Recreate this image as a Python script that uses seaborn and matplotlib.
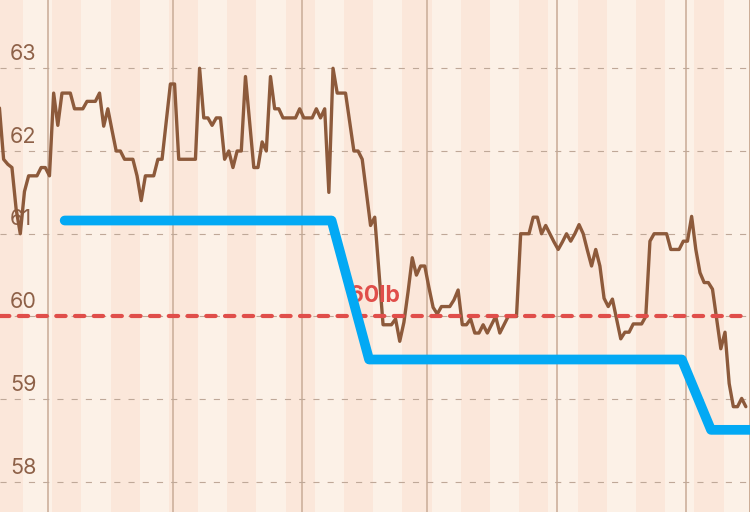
import pandas as pd
import seaborn as sns
import matplotlib.pyplot as plt

# daily weigh-ins, starting 20 Mar (morning)
start = "2023-03-20 08:30"
weights = [
    62.52, 61.9, 61.84, 61.8, 61.3, 61.0, 61.51, 61.7, 61.7, 61.7, 61.8, 61.8,
    61.7, 62.7, 62.31, 62.7, 62.7, 62.7, 62.51, 62.51, 62.51, 62.6, 62.6, 62.6,
    62.7, 62.3, 62.51, 62.25, 62.0, 62.0, 61.9, 61.9, 61.9, 61.7, 61.4, 61.7,
    61.7, 61.7, 61.9, 61.9, 62.35, 62.81, 62.81, 61.9, 61.9, 61.9, 61.9, 61.9,
    63.0, 62.4, 62.4, 62.31, 62.4, 62.4, 61.9, 62.0, 61.8, 62.0, 62.0, 62.9,
    62.35, 61.8, 61.8, 62.11, 62.0, 62.9, 62.51, 62.51, 62.4, 62.4, 62.4, 62.4,
    62.51, 62.4, 62.4, 62.4, 62.51, 62.4, 62.51, 61.5, 63.0, 62.7, 62.7, 62.7,
    62.35, 62.0, 62.0, 61.9, 61.5, 61.1, 61.2, 60.55, 59.9, 59.9, 59.9, 59.97,
    59.7, 59.93, 60.3, 60.71, 60.5, 60.61, 60.61, 60.35, 60.11, 60.03, 60.12, 60.12,
    60.12, 60.2, 60.32, 59.9, 59.9, 59.97, 59.8, 59.8, 59.9, 59.8, 59.9, 60.0,
    59.8, 59.9, 60.0, 60.0, 60.0, 61.0, 61.0, 61.0, 61.2, 61.2, 61.0, 61.1,
    61.0, 60.9, 60.81, 60.9, 61.0, 60.91, 61.0, 61.11, 61.0, 60.8, 60.61, 60.81,
    60.61, 60.22, 60.12, 60.21, 59.97, 59.73, 59.81, 59.81, 59.91, 59.91, 59.91, 60.0,
    60.91, 61.0, 61.0, 61.0, 61.0, 60.81, 60.81, 60.81, 60.91, 60.91, 61.21, 60.81,
    60.53, 60.41, 60.41, 60.33, 59.97, 59.61, 59.81, 59.19, 58.91, 58.91, 59.01, 58.91,
]

# goal plan
goal_dates = ["2023-04-05", "2023-06-08", "2023-06-17", "2023-08-31", "2023-09-07", "2023-09-20"]
goal_weights = [61.16, 61.16, 59.48, 59.48, 58.63, 58.63]

target = 60.0
target_label = "60lb"
y_ticks = [58, 59, 60, 61, 62, 63]

df = pd.DataFrame({
    "date": pd.date_range(start, periods=len(weights), freq="D"),
    "weight": weights,
})
goal = pd.DataFrame({"date": pd.to_datetime(goal_dates), "weight": goal_weights})

sns.set_style("white")
plt.rcParams["font.family"] = ["Inter", "DejaVu Sans"]

fig = plt.figure(figsize=(7.5, 5.12), dpi=100)
ax = fig.add_axes([0, 0, 1, 1])

# weekly stripes (weeks start on Sunday)
weeks = pd.date_range("2023-03-19", "2023-09-24", freq="7D")
for i, w in enumerate(weeks):
    c = "#FBE7DA" if i % 2 == 0 else "#FCF1E7"
    ax.axvspan(w, w + pd.Timedelta(days=7), color=c, lw=0, zorder=0)

# month boundaries
for m in pd.date_range("2023-04-01", "2023-09-01", freq="MS"):
    ax.axvline(m, color="#CDB09C", lw=1.2, zorder=1)

# horizontal grid
for v in y_ticks:
    ax.axhline(v, color="#BFA898", lw=0.8, linestyle=(0, (5.5, 7.3)), zorder=1)
    ax.annotate(str(v), xy=(0.013, v), xycoords=ax.get_yaxis_transform(),
                xytext=(0, 6), textcoords="offset points", va="baseline",
                ha="left", fontsize=15.5, color="#8E6148", zorder=2)

sns.lineplot(data=df, x="date", y="weight", ax=ax, color="#8D5A3B", lw=2.4,
             zorder=3)

ax.axhline(target, color="#E04E4A", lw=3, dashes=(2.25, 2.25),
           dash_capstyle="round", zorder=4)
ax.text(pd.Timestamp("2023-06-18 06:00"), target + 0.17, target_label,
        color="#E04E4A", fontsize=16.5, fontweight="bold", ha="center",
        va="baseline", zorder=4)

sns.lineplot(data=goal, x="date", y="weight", ax=ax, color="#03A9F4", lw=7,
             solid_capstyle="round", solid_joinstyle="round", zorder=5)

ax.set_xlim(pd.Timestamp("2023-03-20 11:45"), pd.Timestamp("2023-09-16 08:24"))
ax.set_ylim(57.637, 63.825)
ax.set_xticks([])
ax.set_yticks([])
ax.set_xlabel("")
ax.set_ylabel("")
for s in ["top", "left", "bottom"]:
    ax.spines[s].set_visible(False)
ax.spines["right"].set_color("#C7A68F")
ax.spines["right"].set_linewidth(2)

plt.savefig("out.png", dpi=100)
